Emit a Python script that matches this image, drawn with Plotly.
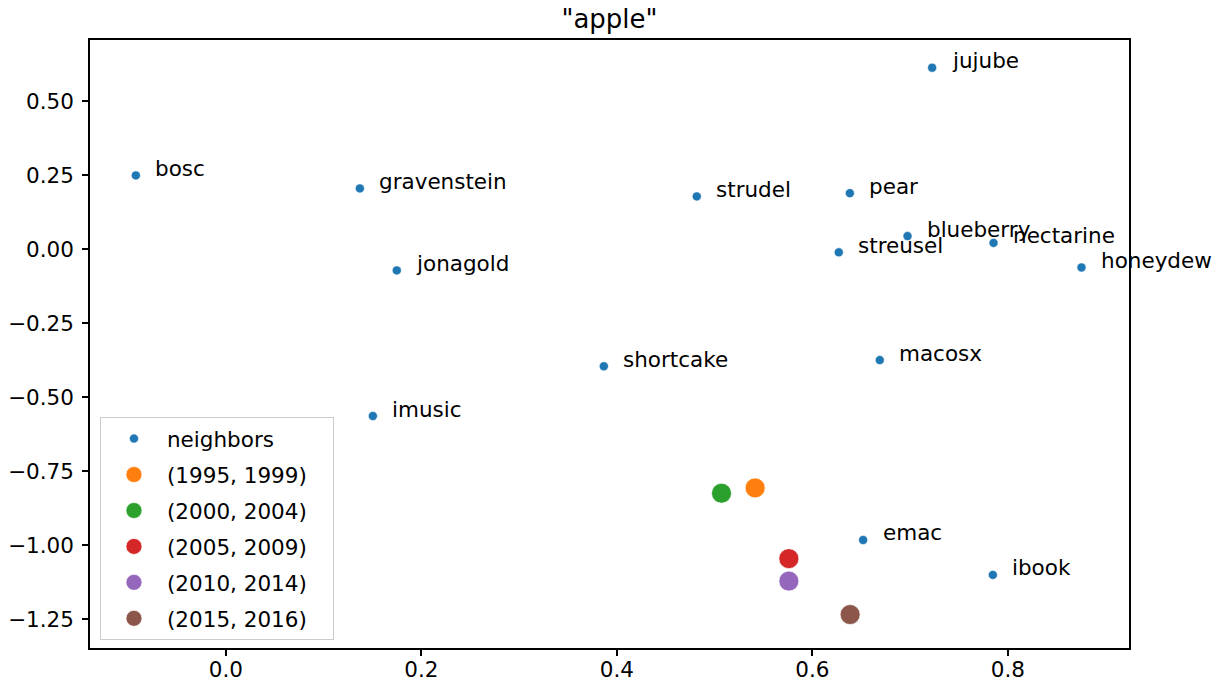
import plotly.graph_objects as go

# neighbor words and their 2-D coordinates
words = ["jujube", "bosc", "gravenstein", "strudel", "pear", "blueberry", "nectarine",
         "honeydew", "streusel", "jonagold", "shortcake", "macosx", "imusic", "emac", "ibook"]
word_x = [0.7226, -0.0921, 0.1371, 0.4818, 0.6384, 0.6974, 0.7854,
          0.8754, 0.6271, 0.1749, 0.3867, 0.6690, 0.1504, 0.6520, 0.7847]
word_y = [0.613, 0.249, 0.205, 0.178, 0.189, 0.044, 0.021,
          -0.062, -0.011, -0.072, -0.396, -0.375, -0.564, -0.983, -1.101]

# "apple" position per time period
periods = ["(1995, 1999)", "(2000, 2004)", "(2005, 2009)", "(2010, 2014)", "(2015, 2016)"]
period_x = [0.5415, 0.5071, 0.5760, 0.5760, 0.6387]
period_y = [-0.807, -0.825, -1.046, -1.122, -1.235]
period_colors = ["#ff7f0e", "#2ca02c", "#d62728", "#9467bd", "#8c564b"]

label_offset = 0.02  # labels placed at x + 0.02 (data units), baseline at y

x_ticks = [0.0, 0.2, 0.4, 0.6, 0.8]
y_ticks = [0.5, 0.25, 0.0, -0.25, -0.5, -0.75, -1.0, -1.25]

FONT = "DejaVu Sans"
FS = 21.5
PAD = "\u00a0\u00a0\u00a0"  # extra right padding inside the legend box

fig = go.Figure()
fig.add_trace(go.Scatter(
    x=word_x, y=word_y, mode="markers", name="neighbors" + PAD,
    marker=dict(color="#1f77b4", size=9, line=dict(color="white", width=0.5)),
    legendgroup="n",
))
for name, px, py, c in zip(periods, period_x, period_y, period_colors):
    fig.add_trace(go.Scatter(
        x=[px], y=[py], mode="markers", name=name + PAD,
        marker=dict(color=c, size=20, line=dict(color="white", width=0.7)),
        legendgroup=name,
    ))

for w, px, py in zip(words, word_x, word_y):
    fig.add_annotation(
        x=px + label_offset, y=py, text=w, showarrow=False,
        xanchor="left", yanchor="middle", yshift=7, xshift=-2,
        font=dict(family=FONT, size=FS, color="black"),
    )

axis_common = dict(
    showline=True, linecolor="black", linewidth=1.5, mirror=True,
    ticks="outside", ticklen=6, tickwidth=1.5, tickcolor="black",
    showgrid=False, zeroline=False, automargin=False,
    tickfont=dict(family=FONT, size=FS, color="black"),
)

# page body has an 8px default margin; compensate so plot area matches reference
fig.update_layout(
    width=1225, height=684,
    margin=dict(l=82, r=104, t=32, b=44),
    plot_bgcolor="white", paper_bgcolor="white",
    title=dict(text='"apple"', x=(609.5 - 8) / 1225, xanchor="center",
               y=1 - 20 / 684, yanchor="bottom", automargin=False,
               font=dict(family=FONT, size=26, color="black")),
    xaxis=dict(range=[-0.139, 0.924], tickvals=x_ticks, tickformat=".1f",
               ticklabelstandoff=-5, **axis_common),
    yaxis=dict(range=[-1.348, 0.7066], tickvals=y_ticks, tickformat=".2f",
               ticklabelstandoff=4, **axis_common),
    legend=dict(
        x=0.0096, y=0.013, xanchor="left", yanchor="bottom",
        bgcolor="rgba(255,255,255,0.8)", bordercolor="#cccccc", borderwidth=1,
        font=dict(family=FONT, size=FS, color="black"),
        tracegroupgap=5, itemsizing="trace", itemwidth=56,
    ),
    showlegend=True,
)

fig.write_html("out.html")
